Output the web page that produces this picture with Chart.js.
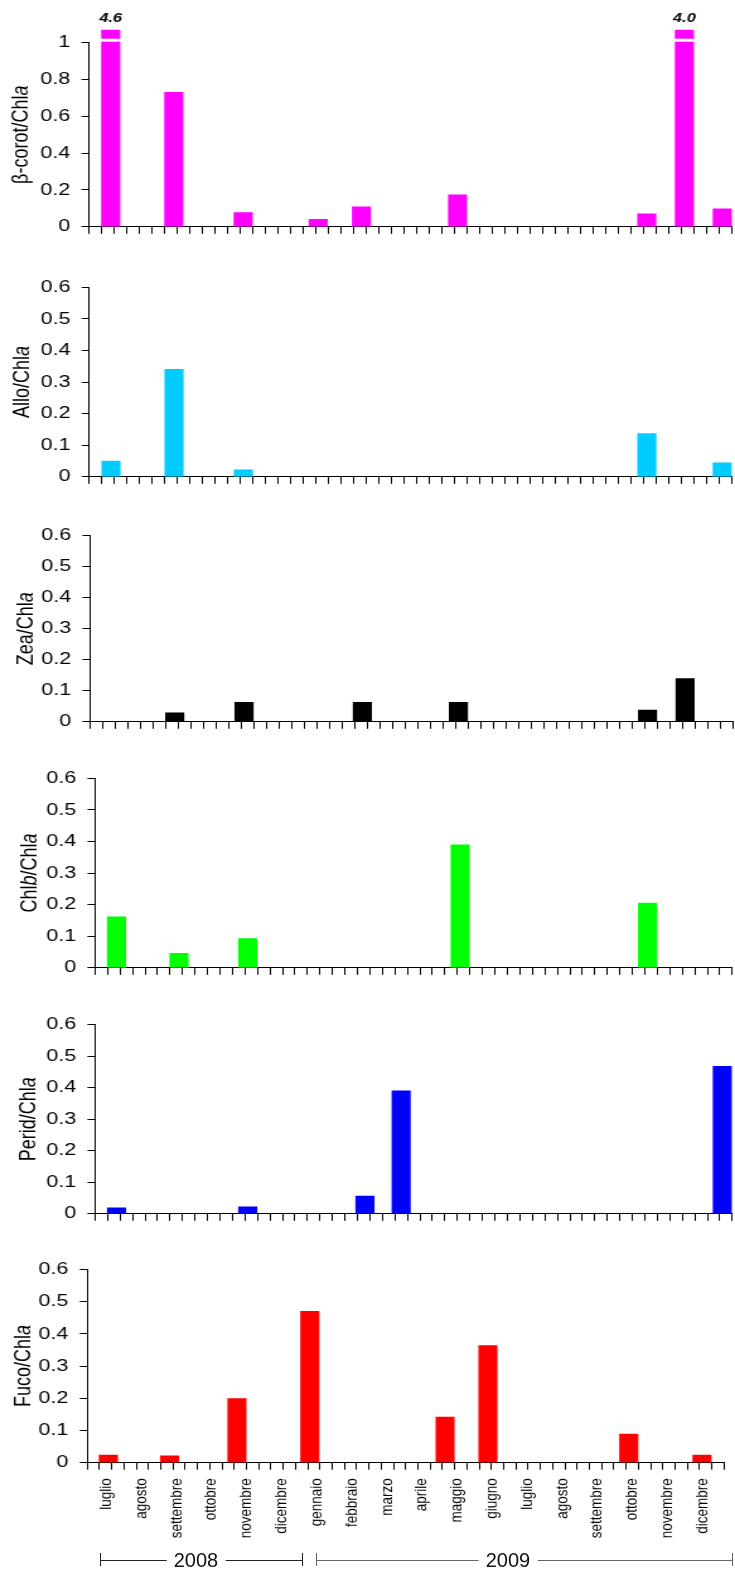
<!DOCTYPE html>
<html>
<head>
<meta charset="utf-8">
<title>Rapporti pigmenti / Chl a</title>
<script src="https://cdn.jsdelivr.net/npm/chart.js@4.4.1/dist/chart.umd.min.js"></script>
<style>
  html, body { margin: 0; padding: 0; background: #fff; }
  #fig { position: relative; width: 735px; height: 1571px; overflow: hidden;
         font-family: "Liberation Sans", Arial, sans-serif; }
  .panel { position: absolute; left: 0; transform-origin: 0 0; }
  .yr-line { position: absolute; height: 0; }
  .yr-cap { position: absolute; width: 1px; }
  .yr-text { position: absolute; font-size: 20px; line-height: 20px; color: #111;
             background: #fff; padding: 0 7px; transform: translateX(-50%); white-space: nowrap; }
</style>
</head>
<body>
<div id="fig"></div>
<script>
// ---- data -------------------------------------------------------------
// sampling points along the survey axis (in tick intervals from the origin)
const samplePos = [1.72, 6.72, 12.22, 18.17, 21.6, 24.5, 29.22, 32.72, 44.22, 47.2, 50.2];

// pigment / Chl a ratios at each sampling point (0 = not detected)
const betaCarot = [4.6, 0.73, 0.077, 0.041, 0.109, 0, 0.173, 0, 0.071, 4.0, 0.098];
const allo      = [0.05, 0.34, 0.022, 0, 0, 0, 0, 0, 0.137, 0, 0.044];
const zea       = [0, 0.0285, 0.063, 0, 0.063, 0, 0.063, 0, 0.038, 0.139, 0];
const chlb      = [0.161, 0.046, 0.0925, 0, 0, 0, 0.389, 0, 0.205, 0, 0];
const perid     = [0.019, 0, 0.022, 0, 0.056, 0.39, 0, 0, 0, 0, 0.468];
const fuco      = [0.024, 0.021, 0.199, 0.47, 0, 0, 0.142, 0.364, 0.089, 0, 0.024];

// month tick labels (luglio 2008 ... dicembre 2009)
const months = ['luglio', 'agosto', 'settembre', 'ottobre', 'novembre', 'dicembre',
                'gennaio', 'febbraio', 'marzo', 'aprile', 'maggio', 'giugno',
                'luglio', 'agosto', 'settembre', 'ottobre', 'novembre', 'dicembre'];
const years = ['2008', '2009'];

// ---- layout -----------------------------------------------------------
const FONT = '"Liberation Sans", Arial, sans-serif';
const W = 583;            // drawing width of each panel canvas
const K = 735 / W;        // horizontal stretch applied to the panels

const panels = [
  { title: [['β-corot/Chl', false], ['a', true]], values: betaCarot, color: '#FF00FF',
    yMax: 1, yStep: 0.2, axisX: 89, rightX: 732.3, top: 42.7, zero: 229.3, slots: 51,
    titleX: 22, canvasTop: 0, canvasBottom: 246, breakTop: 13 },
  { title: [['Allo/Chl', false], ['a', true]], values: allo, color: '#00CCFF',
    yMax: 0.6, yStep: 0.1, axisX: 89.3, rightX: 732.3, top: 287.3, zero: 480, slots: 51,
    titleX: 22.5, canvasTop: 268, canvasBottom: 496 },
  { title: [['Zea/Chl', false], ['a', true]], values: zea, color: '#000000',
    yMax: 0.6, yStep: 0.1, axisX: 90, rightX: 733, top: 535.5, zero: 725, slots: 51,
    titleX: 26, canvasTop: 516, canvasBottom: 741 },
  { title: [['Chl', false], ['b', true], ['/Chl', false], ['a', true]], values: chlb, color: '#00FF00',
    yMax: 0.6, yStep: 0.1, axisX: 95, rightX: 732.3, top: 778.3, zero: 970.7, slots: 51,
    titleX: 30, canvasTop: 759, canvasBottom: 987 },
  { title: [['Perid/Chl', false], ['a', true]], values: perid, color: '#0000FF',
    yMax: 0.6, yStep: 0.1, axisX: 95, rightX: 732.3, top: 1024.7, zero: 1217, slots: 51,
    titleX: 29, canvasTop: 1005, canvasBottom: 1233 },
  { title: [['Fuco/Chl', false], ['a', true]], values: fuco, color: '#FF0000',
    yMax: 0.6, yStep: 0.1, axisX: 87.3, rightX: 724, top: 1269.5, zero: 1462.7, slots: 52,
    titleX: 23.5, canvasTop: 1250, canvasBottom: 1550,
    monthAxis: { firstX: 106.3, step: 35.07, tickGap: 7, pad: 8.6 } }
];

// ---- plugin: rotated axis title with italic parts, broken tall bars ----
const panelDecor = {
  id: 'panelDecor',
  afterDatasetsDraw(chart, args, opts) {
    const ctx = chart.ctx, area = chart.chartArea, ys = chart.scales.y;
    const ds = chart.data.datasets[0];
    chart.getDatasetMeta(0).data.forEach((bar, i) => {
      const v = ds.data[i].y;
      if (v !== null && v > ys.max) {
        const w = bar.width;
        ctx.save();
        ctx.fillStyle = '#fff';
        ctx.fillRect(bar.x - w / 2 - 1, area.top - 4, w + 2, 3);
        ctx.fillStyle = '#000';
        ctx.font = 'italic bold 13px ' + FONT;
        ctx.textAlign = 'center';
        ctx.textBaseline = 'middle';
        ctx.fillText(v.toFixed(1), bar.x, area.top - 24);
        ctx.restore();
      }
    });
  },
  afterDraw(chart, args, opts) {
    const ctx = chart.ctx, area = chart.chartArea;
    const yc = (area.top + area.bottom) / 2;
    ctx.save();
    ctx.translate(opts.x, yc);
    ctx.rotate(-Math.PI / 2);
    ctx.textBaseline = 'middle';
    ctx.textAlign = 'left';
    ctx.fillStyle = '#000';
    const fontOf = it => (it ? 'italic ' : '') + '18px ' + FONT;
    let total = 0;
    opts.parts.forEach(([t, it]) => { ctx.font = fontOf(it); total += ctx.measureText(t).width; });
    let x = -total / 2;
    opts.parts.forEach(([t, it]) => { ctx.font = fontOf(it); ctx.fillText(t, x, 0); x += ctx.measureText(t).width; });
    ctx.restore();
  }
};

// ---- build panels -----------------------------------------------------
const fig = document.getElementById('fig');

panels.forEach(p => {
  const H = Math.round(p.canvasBottom - p.canvasTop);
  const div = document.createElement('div');
  div.className = 'panel';
  div.style.top = p.canvasTop + 'px';
  div.style.width = W + 'px';
  div.style.height = H + 'px';
  div.style.transform = 'scaleX(' + K + ')';
  const cv = document.createElement('canvas');
  cv.width = W; cv.height = H;
  div.appendChild(cv);
  fig.appendChild(div);

  const slotTicks = Array.from({ length: p.slots + 1 }, (_, i) => i);
  const bottomSpace = p.canvasBottom - p.zero;

  const scales = {
    x: {
      type: 'linear', min: 0, max: p.slots, offset: false, position: 'bottom', weight: 0,
      grid: { offset: false, drawOnChartArea: false, drawTicks: true, tickLength: 7, color: '#000', lineWidth: 1 },
      border: { display: true, color: '#000', width: 1 },
      ticks: { display: false },
      afterBuildTicks: s => { s.ticks = slotTicks.map(v => ({ value: v })); },
      afterFit: s => { s.height = p.monthAxis ? p.monthAxis.tickGap : bottomSpace; }
    },
    y: {
      type: 'linear', min: 0, max: p.yMax, position: 'left',
      ticks: { stepSize: p.yStep, color: '#000', padding: 9, font: { family: FONT, size: 17 },
               callback: v => String(+v.toFixed(2)) },
      grid: { drawOnChartArea: false, drawTicks: true, tickLength: 6, color: '#000', lineWidth: 1 },
      border: { display: true, color: '#000', width: 1 },
      afterFit: s => { s.width = p.axisX / K; }
    }
  };

  if (p.monthAxis) {
    const m = p.monthAxis;
    scales.m = {
      type: 'linear', position: 'bottom', weight: 1, offset: false,
      min: (p.axisX - m.firstX) / m.step,
      max: (p.rightX - m.firstX) / m.step,
      grid: { display: false, drawTicks: false, drawOnChartArea: false },
      border: { display: false },
      ticks: {
        autoSkip: false, minRotation: 90, maxRotation: 90, padding: m.pad, color: '#000',
        font: { family: FONT, size: 13.5 },
        callback: v => months[v]
      },
      afterBuildTicks: s => { s.ticks = months.map((_, i) => ({ value: i })); },
      afterFit: s => { s.height = bottomSpace - m.tickGap; }
    };
  }

  new Chart(cv, {
    type: 'bar',
    data: {
      datasets: [{
        // points where the pigment was not detected get no bar
        data: samplePos.map((x, i) => ({ x: x, y: p.values[i] > 0 ? p.values[i] : null })),
        backgroundColor: p.color,
        borderWidth: 0,
        barThickness: 14.5,
        clip: p.breakTop ? { left: false, top: p.breakTop, right: false, bottom: 0 } : undefined
      }]
    },
    options: {
      responsive: false,
      animation: false,
      events: [],
      layout: { padding: { top: p.top - p.canvasTop, left: 0, right: W - p.rightX / K, bottom: 0 } },
      plugins: {
        legend: { display: false },
        tooltip: { enabled: false },
        panelDecor: { parts: p.title, x: p.titleX / K }
      },
      scales: scales
    },
    plugins: [panelDecor]
  });
});

// ---- year brackets under the month labels ------------------------------
const yearSpans = [
  { x0: 100, x1: 301.7, cx: 196, color: '#222' },
  { x0: 315.7, x1: 731.7, cx: 508, color: '#666' }
];
const lineY = 1560, capTop = 1553, capH = 13;
years.forEach((label, i) => {
  const s = yearSpans[i];
  const ln = document.createElement('div');
  ln.className = 'yr-line';
  ln.style.left = s.x0 + 'px';
  ln.style.width = (s.x1 - s.x0) + 'px';
  ln.style.top = lineY + 'px';
  ln.style.borderTop = '1px solid ' + s.color;
  fig.appendChild(ln);
  [s.x0, s.x1].forEach(cx => {
    const cap = document.createElement('div');
    cap.className = 'yr-cap';
    cap.style.left = cx + 'px';
    cap.style.top = capTop + 'px';
    cap.style.height = capH + 'px';
    cap.style.background = s.color;
    fig.appendChild(cap);
  });
  const tx = document.createElement('div');
  tx.className = 'yr-text';
  tx.textContent = label;
  tx.style.left = s.cx + 'px';
  tx.style.top = (lineY - 10) + 'px';
  fig.appendChild(tx);
});
</script>
</body>
</html>
